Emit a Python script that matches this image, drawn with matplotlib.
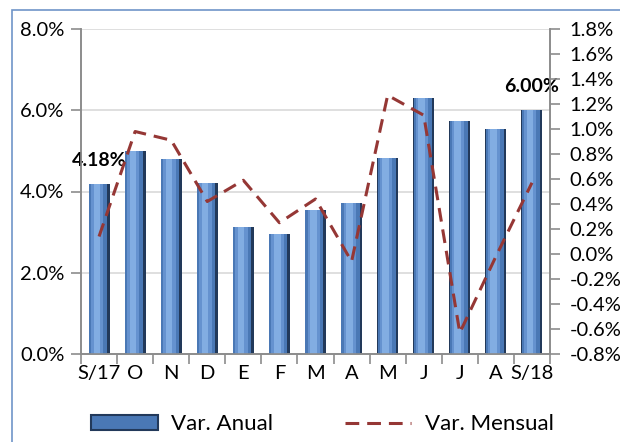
import numpy as np
import matplotlib.pyplot as plt
from matplotlib.patches import Patch, Rectangle
from matplotlib.lines import Line2D

plt.rcParams['font.family'] = ['Lato', 'DejaVu Sans']

# data
meses = ['S/17', 'O', 'N', 'D', 'E', 'F', 'M', 'A', 'M', 'J', 'J', 'A', 'S/18']
var_anual = [4.18, 5.00, 4.80, 4.21, 3.13, 2.96, 3.55, 3.72, 4.83, 6.31, 5.74, 5.54, 6.00]
var_mensual = [0.14, 0.98, 0.91, 0.42, 0.59, 0.25, 0.44, -0.06, 1.27, 1.11, -0.63, -0.02, 0.57]
etiquetas = {0: '4.18%', 12: '6.00%'}

fig = plt.figure(figsize=(6.2, 4.42), dpi=100)
# outer chart frame
fig.patches.append(Rectangle((12/620, -0.1), 1.2, (442-10)/442 + 0.1,
                             transform=fig.transFigure, fill=False,
                             edgecolor='#6f95c8', lw=1.2))
ax = fig.add_axes([81/620, 88/442, 469/620, 325/442])
x = np.arange(len(meses))

# bevelled bars: dark body, lighter face, highlight
ax.bar(x, var_anual, width=0.58, color='#22395a', zorder=2)
ax.bar(x - 0.03, var_anual, width=0.50, color='#4a78b5', zorder=3)
ax.bar(x - 0.05, var_anual, width=0.34, color='#6592cf', zorder=3)
ax.bar(x - 0.06, var_anual, width=0.18, color='#82ade2', zorder=4)

ax.set_xlim(-0.5, len(meses) - 0.5)
ax.set_ylim(0, 8)
ax.set_yticks([0, 2, 4, 6, 8])
ax.set_yticklabels(['%.1f%%' % v for v in [0, 2, 4, 6, 8]], fontsize=14.5)
ax.yaxis.grid(True, color='#d9d9d9', lw=1.2, zorder=0)
ax.set_axisbelow(True)
ax.set_xticks(x)
ax.set_xticklabels(meses, fontsize=14.5)
ax.set_xticks(np.arange(len(meses) + 1) - 0.5, minor=True)
ax.tick_params(axis='x', which='major', length=0, pad=8)
ax.tick_params(axis='x', which='minor', length=7, color='#8c8c8c', width=1.2)
ax.tick_params(axis='y', length=7, color='#8c8c8c', width=1.2, pad=5)
for s in ['left', 'bottom', 'right']:
    ax.spines[s].set_color('#8c8c8c')
    ax.spines[s].set_linewidth(1.2)
ax.spines['top'].set_visible(False)

for i, txt in etiquetas.items():
    ax.annotate(txt, (x[i], var_anual[i]), xytext=(0, 11), textcoords='offset points',
                ha='center', va='bottom', fontsize=14, fontweight='bold', zorder=6)

ax2 = ax.twinx()
ax2.plot(x, var_mensual, color='#953735', lw=2.2, dashes=(4.5, 2.6), zorder=5)
ax2.set_ylim(-0.8, 1.8)
rt = np.round(np.arange(-0.8, 1.81, 0.2), 1) + 0.0
ax2.set_yticks(rt)
ax2.set_yticklabels(['%.1f%%' % (v if abs(v) > 1e-9 else 0.0) for v in rt], fontsize=14.5)
ax2.tick_params(axis='y', length=7, color='#8c8c8c', width=1.2, pad=7)
for s in ['left', 'bottom', 'right']:
    ax2.spines[s].set_color('#8c8c8c')
    ax2.spines[s].set_linewidth(1.2)
ax2.spines['top'].set_visible(False)

handles = [Patch(facecolor='#4a78b5', edgecolor='#22395a', lw=1.5),
           Line2D([0], [0], color='#953735', lw=2.2, dashes=(4.5, 2.6))]
fig.legend(handles, ['Var. Anual', 'Var. Mensual'], loc='center',
           bbox_to_anchor=(0.52, 0.04), ncol=2, frameon=False, fontsize=16,
           handlelength=3.0, handleheight=0.7, columnspacing=3.2, handletextpad=0.6)

fig.savefig('out.png', dpi=100)
